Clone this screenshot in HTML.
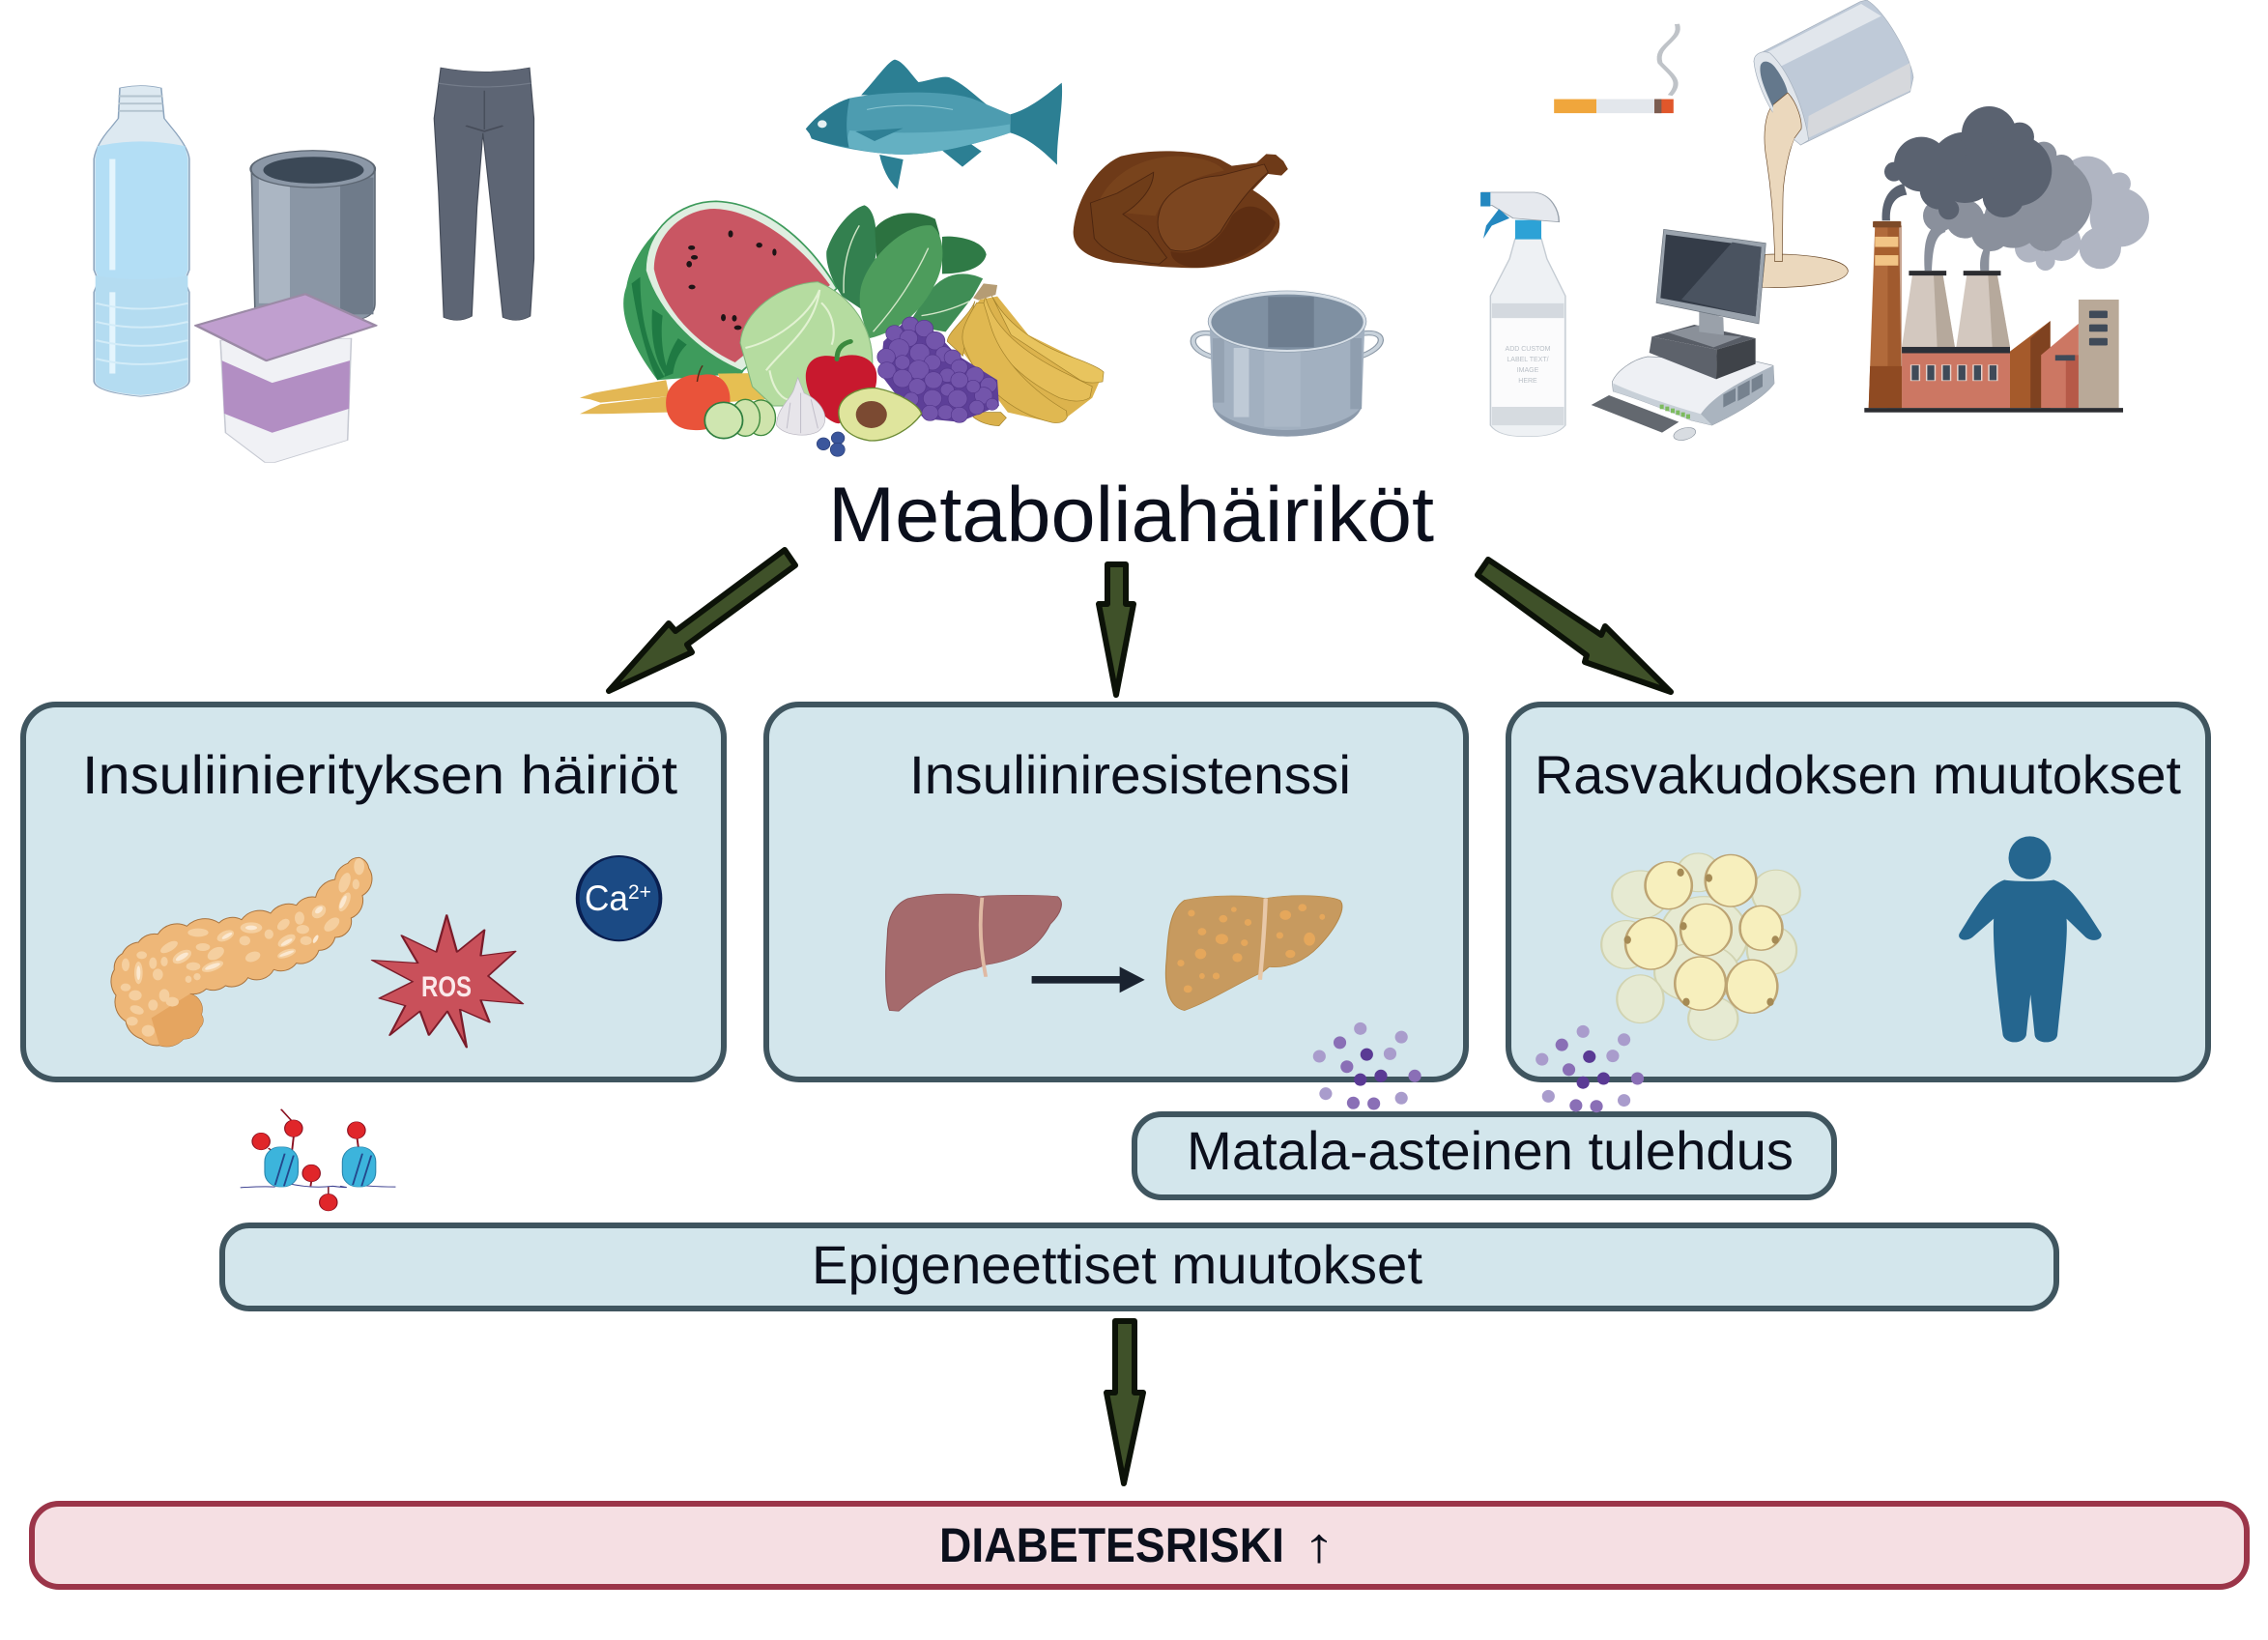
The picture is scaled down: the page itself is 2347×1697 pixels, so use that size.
<!DOCTYPE html>
<html><head><meta charset="utf-8"><title>Metaboliahäiriköt</title>
<style>html,body{margin:0;padding:0;background:#fff}svg{display:block}
text{font-family:"Liberation Sans",sans-serif;fill:#0b0f1c}</style></head><body>
<svg xmlns="http://www.w3.org/2000/svg" width="2347" height="1697" viewBox="0 0 2347 1697">
<rect width="2347" height="1697" fill="#fff"/>

<!-- LEFT TOP: bottle, can, yogurt, pants -->
<g transform="scale(.7653 .3827)">
 <path d="M162,238 Q190,225 218,238 L222,320 L232,345 Q255,400 256,430 L256,730 L250,760 L256,790 L256,1030 Q255,1060 190,1072 Q128,1060 127,1030 L127,790 L133,760 L127,730 L127,430 Q130,390 150,345 L160,320Z" fill="#dde9f1" stroke="#8ca4bd" stroke-width="2"/>
 <path d="M132,395 Q190,370 250,395 L254,430 L254,730 L248,760 L254,790 L254,1030 Q252,1058 190,1068 Q130,1058 129,1030 L129,790 L135,760 L129,730 L129,430Z" fill="#b3def5"/>
 <path d="M129,745 Q190,765 254,745 L254,1030 Q252,1058 190,1068 Q130,1058 129,1030Z" fill="#b4dcf1"/>
 <rect x="148" y="430" width="8" height="300" fill="#e4f5fd"/><rect x="148" y="790" width="8" height="220" fill="#e4f5fd"/>
 <path d="M130,820 Q190,850 254,820M130,870 Q190,900 254,870M130,920 Q190,950 254,920M130,970 Q190,1000 254,970" fill="none" stroke="#d3ecf8" stroke-width="5"/>
 <path d="M160,260H220M160,280H220M160,300H220" stroke="#b4c4cf" stroke-width="5"/>
 <path d="M340,460 C345,395 505,395 507,460 L507,820 Q507,860 480,865 L345,860Z" fill="#8a96a5" stroke="#5c6672" stroke-width="2"/>
 <rect x="350" y="480" width="42" height="340" fill="#abb6c3"/><rect x="460" y="480" width="45" height="370" fill="#6f7b8a"/>
 <ellipse cx="423" cy="457" rx="84" ry="50" fill="#8b97a6" stroke="#5c6672" stroke-width="3"/>
 <ellipse cx="424" cy="460" rx="68" ry="36" fill="#3b4856"/>
 <path d="M298,920 L475,915 L470,1190 L372,1250 L358,1250 L305,1170Z" fill="#f0f1f5" stroke="#c6c9d2" stroke-width="2"/>
 <path d="M300,975 L368,1035 L473,975 L472,1105 L368,1170 L303,1118Z" fill="#b28ec3"/>
 <path d="M265,880 L413,795 L508,880 L360,975Z" fill="#c09fcf" stroke="#9b8aa6" stroke-width="5" stroke-linejoin="round"/>

 <path d="M596,183 Q655,205 716,183 L722,320 L722,700 L717,855 Q700,875 680,858 L664,560 L653,360 L645,560 L638,855 Q620,875 600,858 L593,520 L587,320Z" fill="#5d6574" stroke="#444b58" stroke-width="1.5"/>
 <path d="M592,225 Q655,245 718,225" fill="none" stroke="#747c8a" stroke-width="3"/>
 <path d="M630,340 L655,355 L680,340" fill="none" stroke="#464c59" stroke-width="4"/>
 <path d="M655,245V350" stroke="#484f5c" stroke-width="2"/>
</g>

<!-- FISH / CHICKEN / POT -->
<g transform="translate(820 50) scale(.3954 .3333)">
 <path d="M180,145 C220,95 250,40 268,35 C290,40 310,80 330,105 C360,100 390,85 410,90 C450,110 490,160 520,185 L400,150Z" fill="#2c7f93"/>
 <path d="M570,205 C620,190 670,140 705,107 C710,180 690,280 693,362 C650,310 610,275 570,262Z" fill="#2c7f93"/>
 <path d="M390,315 L465,295 L495,320 L445,368Z M228,330 L290,345 L275,437 C250,410 235,370 228,330Z" fill="#2c7f93"/>
 <path d="M35,250 C70,200 110,170 150,155 C250,130 420,130 480,160 L570,205 L570,262 C500,290 400,325 300,330 C220,330 120,310 50,280 L45,265Z" fill="#4d9cb0"/>
 <path d="M148,308 Q140,280 150,255 C300,270 450,260 570,235 L570,262 C500,290 400,325 300,330 C240,330 190,320 148,308Z" fill="#64b0c2"/>
 <path d="M35,250 C70,200 110,170 150,155 Q135,235 148,308 C110,300 70,290 50,280 L45,265Z" fill="#2a7a8f"/>
 <circle cx="78" cy="235" r="12" fill="#e6f1f3"/>
 <path d="M195,190 Q300,165 420,190" fill="none" stroke="#8cc6d2" stroke-width="3"/>
 <path d="M165,258 L290,248 L215,288Z" fill="#2f8095"/>

 <path d="M735,570 C740,480 790,370 860,335 C940,310 1060,315 1120,345 L1150,365 L1215,355 L1240,328 L1265,330 L1285,350 L1297,375 L1280,395 L1245,390 L1205,440 C1260,480 1285,520 1272,570 C1240,640 1140,680 1060,682 C970,682 900,670 840,665 C770,650 735,620 735,570Z" fill="#6e3a18"/>
 <path d="M800,480 C830,400 900,340 1000,335 C1060,335 1110,350 1130,380 C1040,400 980,440 950,520 L860,510Z" fill="#7a461e" opacity=".8"/>
 <path d="M960,510 C970,450 1040,400 1120,395 L1235,360 L1245,385 C1190,440 1150,510 1120,570 C1080,620 1030,640 990,625 C960,590 950,550 960,510Z" fill="#7c4620" stroke="#4d2610" stroke-width="2.5"/>
 <path d="M780,480 L850,450 L945,385 C945,440 900,490 865,515 L930,570 L980,650 L960,670 C880,660 820,640 790,590Z" fill="#6f3d19" stroke="#4d2610" stroke-width="2.5"/>
 <path d="M990,630 C1060,650 1120,600 1150,520 C1190,470 1230,490 1265,540 C1240,630 1140,675 1060,680 C1020,680 990,660 990,630Z" fill="#5e2e12"/>

 <path d="M1095,885 C1035,875 1030,935 1100,958 M1495,885 C1555,875 1560,930 1478,960" fill="none" stroke="#8b98a6" stroke-width="16"/>
 <path d="M1095,885 C1035,875 1030,935 1100,958 M1495,885 C1555,875 1560,930 1478,960" fill="none" stroke="#c9d3dc" stroke-width="10"/>
 <path d="M1092,860 L1100,1110 C1115,1170 1200,1205 1295,1205 C1390,1205 1480,1165 1490,1110 L1498,860Z" fill="#a2b0c0"/>
 <path d="M1100,1110 C1115,1170 1200,1205 1295,1205 C1390,1205 1480,1165 1490,1110 C1470,1150 1390,1185 1295,1185 C1200,1185 1120,1150 1100,1110Z" fill="#8c9aab"/>
 <rect x="1155" y="930" width="40" height="215" fill="#bfcad6"/><rect x="1235" y="940" width="95" height="235" fill="#aab7c6"/><rect x="1460" y="900" width="30" height="220" fill="#8f9eaf"/><rect x="1100" y="900" width="30" height="200" fill="#94a2b2"/>
 <ellipse cx="1295" cy="848" rx="207" ry="95" fill="#d6dee6" stroke="#8d9cac" stroke-width="2"/>
 <ellipse cx="1295" cy="850" rx="199" ry="86" fill="#7f90a2"/>
 <path d="M1245,772 H1365 V928 H1245Z" fill="#6d7d8f"/>
</g>

<!-- FOOD PILE -->
<g transform="translate(600 180) scale(.3571 .3333)">
 <path d="M225,640 C140,520 110,420 135,350 C160,200 300,85 395,85 L600,400 L470,620Z" fill="#3e9b5c"/>
 <path d="M150,340 C165,450 190,560 225,640 L245,630 C195,540 175,440 175,320Z M210,420 C205,500 215,570 245,620 L255,610 C235,550 235,480 240,440Z M285,510 C260,550 250,590 245,630 L270,620 C275,580 290,550 310,530Z" fill="#1f7a43"/>
 <path d="M190,300 C190,170 290,85 395,85 C530,90 660,200 745,355 L470,612 C350,560 230,440 190,300Z" fill="#dfeee0" stroke="#3e9b5c" stroke-width="5"/>
 <path d="M215,295 C215,190 300,108 390,108 C510,112 640,220 725,345 L450,585 C340,530 240,420 215,295Z" fill="#c95663"/>
 <g fill="#1e1416"><ellipse cx="437" cy="186" rx="7" ry="11"/><ellipse cx="520" cy="221" rx="9" ry="8"/><ellipse cx="564" cy="243" rx="6" ry="11"/><ellipse cx="324" cy="229" rx="10" ry="7"/><ellipse cx="332" cy="259" rx="10" ry="7"/><ellipse cx="317" cy="280" rx="8" ry="10"/><ellipse cx="325" cy="351" rx="10" ry="7"/><ellipse cx="416" cy="446" rx="7" ry="11"/><ellipse cx="448" cy="448" rx="7" ry="10"/><ellipse cx="458" cy="477" rx="11" ry="7"/></g>

 <path d="M715,240 C735,170 790,105 825,97 C855,110 862,170 860,240 L850,300 L830,430 L760,380 C730,330 712,280 715,240Z" fill="#33804f"/>
 <path d="M855,170 C880,130 960,100 1030,140 L1042,185 L1050,260 L860,260Z" fill="#2c7240"/>
 <path d="M1050,195 C1090,190 1170,205 1178,250 C1170,290 1120,310 1050,310Z" fill="#2f7a46"/>
 <path d="M1010,370 C1050,310 1110,295 1168,325 L1140,380 L1060,490 L950,470Z" fill="#3f8d55"/>
 <path d="M815,350 C840,250 950,150 1020,160 C1060,190 1060,280 1030,340 C990,430 920,490 840,510 C815,450 805,400 815,350Z" fill="#4d9c5c"/>
 <path d="M765,370 Q760,250 810,160 M850,490 Q950,370 1010,230 M990,440 Q1060,430 1130,395" fill="none" stroke="#d2e6c8" stroke-width="4"/>

 <path d="M0,695 L40,680 L250,640 L260,690 L60,710 L30,700Z M0,745 L60,715 L260,690 L255,740 L60,745Z" fill="#e3b754"/>
 <path d="M400,620 L510,618 L538,700 L430,708Z" fill="#e6bf52"/>
 <path d="M465,525 C470,430 580,340 690,335 C790,380 850,480 848,590 L720,720 L560,720 L500,660Z" fill="#b5dca0" stroke="#7fb57a" stroke-width="3"/>
 <path d="M540,610 C590,540 680,480 695,360 C660,450 560,520 480,540M550,610 C560,670 590,710 620,700M700,400 C740,440 740,500 730,530" fill="none" stroke="#e2f2d2" stroke-width="6"/>
 <path d="M250,700 C255,640 320,615 350,625 C410,610 440,660 435,710 C430,770 380,800 330,795 C280,795 245,760 250,700Z" fill="#e9533a"/>
 <path d="M340,645 Q345,610 356,595" stroke="#5a2c18" stroke-width="4" fill="none"/>
 <path d="M655,620 C660,570 700,555 750,570 C800,550 855,570 860,620 C865,680 830,740 750,775 C710,770 650,690 655,620Z" fill="#c8192e"/>
 <path d="M745,575 Q745,530 785,520" stroke="#3b8a3e" stroke-width="14" fill="none" stroke-linecap="round"/>
 <g fill="#cfe4ac" stroke="#3f8a3f" stroke-width="4"><ellipse cx="525" cy="757" rx="42" ry="55"/><ellipse cx="480" cy="757" rx="42" ry="57"/></g>
 <ellipse cx="417" cy="765" rx="55" ry="56" fill="#cfe6b0" stroke="#2f7f3f" stroke-width="5"/>
 <path d="M632,632 L650,680 C710,710 730,770 690,800 C650,820 590,810 570,780 C570,730 610,700 620,670Z" fill="#e7e5ea" stroke="#b9b6c0" stroke-width="2"/>
 <path d="M640,680 L640,805M610,710 L600,790M670,700 L690,790" stroke="#c3c0cb" stroke-width="3" fill="none"/>

 <path d="M1160,390 L1210,380 L1300,500 L1518,615 L1485,695 L1412,755 L1370,772 L1240,740 L1115,560 L1065,520Z" fill="#dcb34d"/>
 <g stroke="#a4832c" stroke-width="2">
  <path d="M1145,395 C1130,440 1065,490 1065,520 L1110,565 L1120,500Z" fill="#dab14c"/>
  <path d="M1190,370 C1230,460 1320,530 1430,570 C1470,585 1510,605 1518,615 L1515,645 C1490,650 1470,650 1450,640 L1250,500Z" fill="#e8c45e"/>
  <path d="M1175,380 C1200,480 1290,560 1420,625 L1485,660 L1478,695 C1450,712 1420,705 1390,695 C1300,650 1210,570 1160,450Z" fill="#e5be58"/>
  <path d="M1150,400 C1110,470 1100,500 1115,540 C1150,640 1240,740 1370,772 C1390,775 1405,770 1412,755 L1410,735 C1320,680 1220,580 1190,470 L1170,400Z" fill="#e0b851"/>
  <path d="M1140,740 L1220,740 L1236,757 L1215,782 Q1170,780 1140,755Z" fill="#dab14c"/>
 </g>
 <path d="M1140,385 L1170,340 L1210,345 L1205,375 L1155,392Z" fill="#b59c74"/>
 <path d="M950,450 L1030,490 L1090,560 L1210,640 L1215,720 L1100,770 L1000,760 L920,690 L870,620 L880,520Z" fill="#5d3f98"/>
 <g fill="#7355ab" stroke="#54378c" stroke-width="2">
  <circle cx="958" cy="468" r="24"/><circle cx="998" cy="480" r="26"/><circle cx="912" cy="495" r="25"/><circle cx="953" cy="510" r="26"/><circle cx="1030" cy="518" r="28"/><circle cx="925" cy="542" r="30"/><circle cx="985" cy="555" r="29"/><circle cx="888" cy="568" r="26"/><circle cx="1055" cy="560" r="24"/><circle cx="1080" cy="570" r="24"/><circle cx="935" cy="585" r="22"/><circle cx="1022" cy="585" r="24"/><circle cx="982" cy="608" r="30"/><circle cx="1100" cy="600" r="24"/><circle cx="890" cy="610" r="26"/><circle cx="1065" cy="625" r="22"/><circle cx="935" cy="635" r="28"/><circle cx="1025" cy="640" r="26"/><circle cx="1145" cy="625" r="26"/><circle cx="1100" cy="640" r="25"/><circle cx="978" cy="660" r="25"/><circle cx="1065" cy="670" r="20"/><circle cx="1185" cy="655" r="24"/><circle cx="1022" cy="697" r="27"/><circle cx="1095" cy="698" r="28"/><circle cx="1170" cy="688" r="26"/><circle cx="960" cy="700" r="22"/><circle cx="1140" cy="660" r="20"/><circle cx="1060" cy="740" r="23"/><circle cx="1015" cy="742" r="24"/><circle cx="1150" cy="725" r="22"/><circle cx="1100" cy="748" r="24"/><circle cx="1195" cy="715" r="18"/></g>
 <path d="M750,740 C750,690 810,660 860,665 C930,680 985,720 990,745 C960,790 900,830 840,828 C790,820 750,790 750,740Z" fill="#dfe59d" stroke="#6c8a35" stroke-width="4"/>
 <ellipse cx="845" cy="747" rx="45" ry="42" fill="#7b4a32"/>
 <g fill="#3b569c" stroke="#2b3f78" stroke-width="2"><circle cx="706" cy="838" r="19"/><circle cx="748" cy="820" r="19"/><circle cx="747" cy="856" r="21"/></g>
</g>

<!-- SMOKE -->
<g transform="translate(1800 0) scale(.3333)">
 <g fill="#b0b5c2"><circle cx="1080" cy="570" r="85"/><circle cx="1180" cy="570" r="35"/><circle cx="1180" cy="675" r="92"/><circle cx="1120" cy="770" r="65"/><circle cx="1000" cy="750" r="60"/><circle cx="950" cy="810" r="30"/><circle cx="900" cy="770" r="45"/></g>
 <g fill="#8a909c"><circle cx="1000" cy="520" r="40"/><circle cx="960" cy="620" r="135"/><circle cx="950" cy="720" r="60"/><circle cx="780" cy="720" r="60"/><circle cx="700" cy="680" r="60"/><circle cx="620" cy="670" r="50"/><circle cx="945" cy="480" r="40"/><circle cx="850" cy="680" r="90"/>
  <path d="M575,840 C570,760 580,700 630,690 L640,720 C605,730 600,780 597,840Z M748,840 C745,810 750,790 760,770 L780,770 C775,790 775,810 775,840Z"/></g>
 <g fill="#5a6270"><circle cx="565" cy="510" r="85"/><circle cx="775" cy="415" r="85"/><circle cx="870" cy="425" r="45"/><circle cx="860" cy="530" r="110"/><circle cx="480" cy="533" r="30"/><circle cx="700" cy="520" r="110"/><circle cx="660" cy="470" r="45"/><circle cx="820" cy="610" r="65"/><circle cx="620" cy="590" r="60"/><circle cx="650" cy="650" r="32"/>
  <path d="M443,685 C440,620 465,580 510,570 L520,605 C480,610 465,640 468,685Z"/></g>
 <!-- paint stream/pool -->
 <path d="M80,790 C170,785 340,800 337,843 C330,885 170,895 70,892Z" fill="#ebd8bd" stroke="#6b4a2a" stroke-width="2"/>
 <path d="M150,288 C180,320 195,375 192,400 L170,430 C150,480 135,560 135,620 L133,812 L110,812 C108,700 100,600 85,500 C70,420 80,350 105,325Z" fill="#ebd8bd" stroke="#6b4a2a" stroke-width="2"/>
</g>

<!-- TOP RIGHT -->
<g transform="translate(1200 0) scale(.7315 .3827)">
 <!-- spray -->
 <path d="M503,645 L540,645 L548,700 L574,800 L574,1150 Q560,1182 520,1180 Q480,1182 468,1150 L468,800 L495,700Z" fill="#eef1f4" stroke="#c5ccd3" stroke-width="2"/>
 <rect x="470" y="860" width="102" height="240" fill="#fbfbfc"/><path d="M470,820 H572 V860 H470Z" fill="#d4d9df"/><rect x="470" y="1100" width="102" height="50" fill="#d6dbe0"/>
 <rect x="503" y="595" width="37" height="52" fill="#2da2d6"/>
 <path d="M456,520 H530 C555,525 565,570 565,600 L500,590 L470,555 H456Z" fill="#e6e9ee" stroke="#9aa3ad" stroke-width="2"/>
 <rect x="454" y="520" width="14" height="38" fill="#2488c0"/>
 <path d="M480,565 L495,590 L470,610 L458,645 L462,610Z" fill="#2488c0"/>

 <!-- cigarette -->
 <rect x="558" y="268" width="60" height="38" fill="#f0a63c"/><rect x="618" y="268" width="95" height="38" fill="#e3e7ec"/>
 <rect x="700" y="268" width="27" height="38" fill="#e0572b"/><rect x="700" y="268" width="10" height="38" fill="#7a5c50"/>
 <path d="M732,65 C740,110 700,120 708,170 C725,205 740,220 722,258" fill="none" stroke="#bfc3c8" stroke-width="7"/>

 <!-- factory -->
 <path d="M1203,950 L1260,868 V1103 H1203Z" fill="#a55a2b"/><path d="M1232,1103 V915 L1260,868 V1103Z" fill="#7f4220"/>
 <path d="M1247,960 L1300,875 V1103 H1247Z" fill="#cc7763"/><rect x="1282" y="960" width="18" height="143" fill="#b65a48"/>
 <rect x="1267" y="960" width="28" height="15" fill="#3f4a58"/>
 <rect x="1300" y="810" width="57" height="293" fill="#b9a998"/>
 <g fill="#3f4a58"><rect x="1315" y="840" width="26" height="20" rx="2"/><rect x="1315" y="877" width="26" height="20" rx="2"/><rect x="1315" y="914" width="26" height="20" rx="2"/></g>
 <path d="M1065,742 H1108 L1125,938 H1050Z" fill="#d3c8bf"/><path d="M1095,742 H1108 L1125,938 H1100Z" fill="#b6a99c"/>
 <path d="M1142,742 H1185 L1203,938 H1127Z" fill="#d3c8bf"/><path d="M1172,742 H1185 L1203,938 H1178Z" fill="#b6a99c"/>
 <rect x="1060" y="732" width="53" height="13" fill="#2c2d31"/><rect x="1137" y="732" width="53" height="13" fill="#2c2d31"/>
 <rect x="1050" y="938" width="153" height="165" fill="#cc7763"/><rect x="1050" y="938" width="153" height="17" fill="#2c3038"/>
 <g fill="#3f4a58" stroke="#e7d3cc" stroke-width="2"><rect x="1063" y="987" width="12" height="42"/><rect x="1085" y="987" width="12" height="42"/><rect x="1107" y="987" width="12" height="42"/><rect x="1129" y="987" width="12" height="42"/><rect x="1151" y="987" width="12" height="42"/><rect x="1173" y="987" width="12" height="42"/></g>
 <path d="M1012,610 H1046 L1050,1103 H1003Z" fill="#b16a3b"/>
 <path d="M1005,990 H1050 V1103 H1003Z" fill="#8f4a22"/><rect x="1030" y="610" width="20" height="493" fill="#8f4a22" opacity=".5"/>
 <rect x="1012" y="640" width="33" height="28" fill="#f2c485"/><rect x="1012" y="668" width="33" height="22" fill="#a8602e"/><rect x="1012" y="690" width="33" height="28" fill="#f2c485"/>
 <rect x="1009" y="598" width="40" height="17" rx="2" fill="#7d4a28"/>
 <rect x="997" y="1103" width="366" height="12" fill="#2c2d31"/>
</g>

<!-- paint can -->
<g transform="translate(1800 0) scale(.3333)">
 <path d="M75,160 L375,5 L395,0 C450,30 530,170 540,240 L530,285 L190,450 C140,400 60,260 45,190Z" fill="#bfcad8" stroke="#a4afbc" stroke-width="2"/>
 <path d="M80,165 L378,12 L440,50 L130,205Z" fill="#e1e6ec"/>
 <path d="M215,360 L530,195 L532,280 L210,430Z" fill="#d6d8dc"/>
 <path d="M45,190 C45,165 75,155 95,165 C150,215 200,330 215,435 L190,450 C110,390 50,260 45,190Z" fill="#e1e6ec" stroke="#a4afbc" stroke-width="2"/>
 <path d="M65,205 C70,185 95,185 115,215 C140,250 150,280 150,290 L105,335 C85,290 60,240 65,205Z" fill="#64788c"/>
 <path d="M150,288 C180,320 195,375 192,400 L170,430 L155,470 L100,400 L105,325Z" fill="#ebd8bd"/>
 <path d="M150,288 C180,320 195,375 192,400 L170,430 M105,325 L150,288" fill="none" stroke="#6b4a2a" stroke-width="2"/>
</g>

<!-- computer -->
<g transform="translate(1640 220) scale(.3333)">
 <path d="M85,525 C100,490 150,455 195,447 L530,462 L585,475 L588,530 C560,570 480,620 395,660 L330,645 C250,610 140,570 88,555Z" fill="#eef0f4" stroke="#8e97a2" stroke-width="2"/>
 <path d="M88,530 C150,560 270,600 360,625 L395,660 L330,645 C250,610 140,570 88,555Z" fill="#c8d0d8"/>
 <path d="M360,625 C400,570 470,530 585,475 L588,530 C560,570 480,620 395,660Z" fill="#aab4bf"/>
 <g fill="#76828f"><path d="M430,565 L468,545 V585 L430,605Z"/><path d="M475,540 L512,520 V565 L475,585Z"/><path d="M518,518 L552,500 V540 L518,560Z"/></g>
 <g fill="#7dbb5e"><rect x="233" y="596" width="12" height="14"/><rect x="250" y="602" width="12" height="14"/><rect x="267" y="608" width="12" height="14"/><rect x="283" y="614" width="12" height="14"/><rect x="299" y="620" width="12" height="14"/><rect x="315" y="626" width="12" height="14"/></g>
 <path d="M20,597 L75,567 L292,650 L240,683Z" fill="#63686f"/>
 <ellipse cx="310" cy="687" rx="35" ry="18" transform="rotate(-15 310 687)" fill="#d8dce1" stroke="#8e97a2" stroke-width="2"/>
 <path d="M208,385 L340,348 L530,390 L410,425Z" fill="#585d66"/>
 <path d="M258,372 L355,350 L430,380 L488,385 L400,418Z" fill="#8a9099"/>
 <path d="M208,385 L200,435 L408,517 L410,425Z" fill="#5d626b"/>
 <path d="M410,425 L530,390 L530,470 L408,517Z" fill="#3f4349"/>
 <path d="M355,305 L430,325 L432,380 L355,370Z" fill="#9aa1aa"/>
 <path d="M245,52 L562,95 L540,345 L222,280Z" fill="#9aa3ad" stroke="#6a737d" stroke-width="2"/>
 <path d="M252,68 L548,107 L530,322 L235,265Z" fill="#343c48"/>
 <path d="M458,92 L548,107 L530,322 L300,270Z" fill="#4a5360"/>
</g>
<g font-size="7" text-anchor="middle"><text x="1581" y="363" style="fill:#b9bfc6">ADD CUSTOM</text><text x="1581" y="374" style="fill:#b9bfc6">LABEL TEXT/</text><text x="1581" y="385" style="fill:#b9bfc6">IMAGE</text><text x="1581" y="396" style="fill:#b9bfc6">HERE</text></g>

<!-- TITLE -->
<text x="857" y="560" font-size="81" textLength="627" lengthAdjust="spacingAndGlyphs">Metaboliahäiriköt</text>

<!-- ARROWS -->
<g fill="#3f5129" stroke="#0c1208" stroke-width="6" stroke-linejoin="round">
 <path d="M812,569 L823,585 L711,667 L716,675 L630,715 L692,645 L699,653Z"/>
 <path d="M1146,584 H1165 V625 H1173 L1155,719 L1137,625 H1146Z"/>
 <path d="M1540,579 L1529,595 L1642,678 L1640,685 L1729,716 L1661,648 L1657,657Z"/>
 <path d="M1154,1367 H1174 V1441 H1183 L1163,1535 L1145,1441 H1154Z"/>
</g>

<!-- BOXES -->
<g fill="#d3e6ec" stroke="#3f555f" stroke-width="6">
 <rect x="24" y="729" width="725" height="388" rx="34"/>
 <rect x="793" y="729" width="724" height="388" rx="34"/>
 <rect x="1561" y="729" width="724" height="388" rx="34"/>
 <rect x="1174" y="1153" width="724" height="86" rx="28"/>
 <rect x="230" y="1268" width="1898" height="86" rx="28"/>
</g>
<rect x="33" y="1556" width="2292" height="86" rx="28" fill="#f5dfe3" stroke="#9b3549" stroke-width="6"/>

<!-- LABELS -->
<g font-size="56">
 <text x="85" y="821" textLength="616" lengthAdjust="spacingAndGlyphs">Insuliinierityksen häiriöt</text>
 <text x="941" y="821" textLength="457" lengthAdjust="spacingAndGlyphs">Insuliiniresistenssi</text>
 <text x="1588" y="821" textLength="669" lengthAdjust="spacingAndGlyphs">Rasvakudoksen muutokset</text>
 <text x="1228" y="1210" textLength="628" lengthAdjust="spacingAndGlyphs">Matala-asteinen tulehdus</text>
 <text x="840" y="1328" textLength="632" lengthAdjust="spacingAndGlyphs">Epigeneettiset muutokset</text>
</g>
<text x="972" y="1616" font-size="50" font-weight="700" textLength="357" lengthAdjust="spacingAndGlyphs">DIABETESRISKI</text>
<text x="1348" y="1616" font-size="50" font-weight="700" textLength="34" lengthAdjust="spacingAndGlyphs">↑</text>

<!-- Pancreas -->
<g transform="translate(100 880) scale(.3333)">
 <path d="M815,22 A40,40 0 0 1 845,55 A60,60 0 0 1 825,140 A60,60 0 0 1 790,210 A50,50 0 0 1 740,270 A50,50 0 0 1 690,310 A60,60 0 0 1 620,350 A60,60 0 0 1 550,370 A60,60 0 0 1 470,395 A60,60 0 0 1 400,420 A60,60 0 0 1 340,430 A60,60 0 0 1 290,445 A50,50 0 0 1 325,510 A30,30 0 0 1 320,550 A50,50 0 0 1 270,585 A70,70 0 0 1 195,605 A60,60 0 0 1 140,585 A70,70 0 0 1 90,530 A70,70 0 0 1 60,450 A70,70 0 0 1 55,370 A50,50 0 0 1 80,320 A60,60 0 0 1 130,285 A60,60 0 0 1 190,260 A70,70 0 0 1 280,235 A80,80 0 0 1 380,225 A60,60 0 0 1 450,215 A70,70 0 0 1 540,195 A70,70 0 0 1 620,170 A60,60 0 0 1 680,145 A70,70 0 0 1 740,90 A60,60 0 0 1 780,40 A40,40 0 0 1 815,22Z" fill="#eeb778" stroke="#a9743f" stroke-width="3"/>
 <path d="M290,445 A50,50 0 0 1 325,510 A30,30 0 0 1 320,550 A50,50 0 0 1 270,585 A70,70 0 0 1 195,605 L170,520Z" fill="#e5a560"/>
 <g fill="#f5cf9f">
  <ellipse cx="815" cy="50" rx="16" ry="26"/><ellipse cx="770" cy="100" rx="16" ry="32" transform="rotate(20 770 100)"/><ellipse cx="805" cy="105" rx="11" ry="16"/><ellipse cx="770" cy="160" rx="14" ry="32" transform="rotate(25 770 160)"/><ellipse cx="690" cy="190" rx="24" ry="18" transform="rotate(-40 690 190)"/><ellipse cx="730" cy="230" rx="28" ry="16" transform="rotate(-40 730 230)"/><ellipse cx="630" cy="210" rx="15" ry="20"/><ellipse cx="580" cy="230" rx="22" ry="14" transform="rotate(-40 580 230)"/><ellipse cx="640" cy="245" rx="20" ry="14"/><ellipse cx="590" cy="280" rx="30" ry="15" transform="rotate(-30 590 280)"/><ellipse cx="650" cy="280" rx="18" ry="14"/><ellipse cx="480" cy="240" rx="34" ry="17"/><ellipse cx="535" cy="260" rx="14" ry="15"/><ellipse cx="460" cy="280" rx="17" ry="15"/><ellipse cx="485" cy="330" rx="24" ry="15" transform="rotate(-20 485 330)"/><ellipse cx="590" cy="320" rx="30" ry="12" transform="rotate(-20 590 320)"/><ellipse cx="400" cy="265" rx="28" ry="15" transform="rotate(-25 400 265)"/><ellipse cx="370" cy="320" rx="28" ry="17" transform="rotate(-30 370 320)"/><ellipse cx="360" cy="360" rx="35" ry="14" transform="rotate(-20 360 360)"/><ellipse cx="315" cy="255" rx="32" ry="13"/><ellipse cx="330" cy="300" rx="22" ry="12"/><ellipse cx="265" cy="330" rx="32" ry="17" transform="rotate(-30 265 330)"/><ellipse cx="225" cy="300" rx="30" ry="13" transform="rotate(-30 225 300)"/><ellipse cx="300" cy="360" rx="22" ry="13"/><ellipse cx="190" cy="385" rx="16" ry="18"/><ellipse cx="285" cy="400" rx="10" ry="11"/><ellipse cx="312" cy="392" rx="11" ry="11"/><ellipse cx="210" cy="345" rx="11" ry="15"/><ellipse cx="175" cy="350" rx="12" ry="18"/><ellipse cx="130" cy="380" rx="13" ry="35"/><ellipse cx="90" cy="355" rx="12" ry="20"/><ellipse cx="90" cy="425" rx="16" ry="12"/><ellipse cx="140" cy="325" rx="16" ry="12"/><ellipse cx="210" cy="450" rx="16" ry="20"/><ellipse cx="125" cy="495" rx="22" ry="13" transform="rotate(20 125 495)"/><ellipse cx="110" cy="530" rx="18" ry="14"/><ellipse cx="160" cy="560" rx="20" ry="18"/><ellipse cx="175" cy="480" rx="15" ry="17"/><ellipse cx="120" cy="450" rx="20" ry="16"/><ellipse cx="235" cy="470" rx="20" ry="15"/></g>
 <g fill="#fbe8d0"><ellipse cx="690" cy="185" rx="14" ry="8" transform="rotate(-40 690 185)"/><ellipse cx="765" cy="160" rx="7" ry="22" transform="rotate(25 765 160)"/><ellipse cx="590" cy="285" rx="20" ry="6" transform="rotate(-30 590 285)"/><ellipse cx="480" cy="240" rx="18" ry="7"/><ellipse cx="360" cy="360" rx="25" ry="7" transform="rotate(-20 360 360)"/><ellipse cx="265" cy="330" rx="22" ry="8" transform="rotate(-30 265 330)"/><ellipse cx="130" cy="380" rx="6" ry="22"/><ellipse cx="680" cy="275" rx="6" ry="14" transform="rotate(30 680 275)"/><ellipse cx="590" cy="320" rx="24" ry="5" transform="rotate(-20 590 320)"/><ellipse cx="405" cy="265" rx="18" ry="6" transform="rotate(-30 405 265)"/></g>
</g>

<!-- Box 1 art -->
<g transform="translate(0 700) scale(.7653 .3827)">
 <path d="M604,645 L618,745 L655,685 L650,755 L697,743 L660,810 L707,885 L650,875 L662,935 L622,900 L631,1003 L605,905 L580,970 L568,905 L527,970 L548,890 L513,870 L558,825 L503,767 L565,775 L543,700 L590,745Z" fill="#c9505a" stroke="#7a1c2a" stroke-width="3" stroke-linejoin="round"/>
 <ellipse cx="837" cy="600" rx="56" ry="114" fill="#1b4a84" stroke="#0a1f50" stroke-width="5"/>
 <path d="M1228,600 C1260,585 1300,585 1325,595 C1345,590 1410,590 1430,595 C1440,610 1435,640 1420,670 C1405,730 1380,765 1332,780 L1320,790 C1280,800 1240,860 1215,905 L1203,903 C1195,860 1198,760 1200,700 C1200,650 1210,615 1228,600Z" fill="#a56a6c" stroke="#8d5558" stroke-width="1.5"/>
 <path d="M1328,598 Q1322,700 1333,812" fill="none" stroke="#dfb9a3" stroke-width="5"/>
 <rect x="1395" y="810" width="122" height="20" fill="#1a2330"/><path d="M1514,785 L1548,820 L1514,855Z" fill="#1a2330"/>

 <!-- epigenetics -->
 <path d="M325,1382 Q355,1378 372,1380 M388,1370 Q420,1385 450,1378 Q480,1385 460,1378 M490,1376 Q510,1380 535,1380" fill="none" stroke="#3b3f8f" stroke-width="2.5"/>
 <path d="M444,1380 V1405" stroke="#7a1c2a" stroke-width="2"/>
 <path d="M380,1170 L396,1205 M397,1245 L395,1280 M363,1275 L375,1295 M483,1250 L485,1280 M421,1365 L420,1378" stroke="#8a1020" stroke-width="2.5" fill="none"/>
 <rect x="358" y="1272" width="45" height="108" rx="20" ry="40" fill="#3cb4dc" stroke="#2a86ad" stroke-width="1.5"/>
 <rect x="463" y="1272" width="45" height="108" rx="20" ry="40" fill="#3cb4dc" stroke="#2a86ad" stroke-width="1.5"/>
 <path d="M385,1290 L372,1375 M397,1295 L384,1378 M490,1290 L477,1375 M502,1295 L489,1378" stroke="#23488c" stroke-width="2.5" fill="none"/>
 <g fill="#e0262a" stroke="#8a1020" stroke-width="1.5"><ellipse cx="397" cy="1222" rx="12" ry="23"/><ellipse cx="353" cy="1257" rx="12" ry="23"/><ellipse cx="482" cy="1227" rx="12" ry="23"/><ellipse cx="421" cy="1343" rx="12" ry="23"/><ellipse cx="444" cy="1422" rx="12" ry="23"/></g>
</g>
<text x="462" y="1031" font-size="30" font-weight="700" text-anchor="middle" style="fill:#fbe9ea" textLength="52" lengthAdjust="spacingAndGlyphs">ROS</text>
<text x="605" y="942" font-size="37" style="fill:#fff" textLength="45" lengthAdjust="spacingAndGlyphs">Ca</text>
<text x="650" y="930" font-size="21" style="fill:#fff">2+</text>

<!-- Box 2/3 art -->
<g transform="translate(1200 700) scale(.7315 .3827)">
 <path d="M35,605 C70,590 120,590 150,600 C175,590 235,588 255,605 C265,625 250,680 225,730 C205,770 180,790 155,785 L145,800 C110,830 70,880 35,903 C15,895 5,850 10,760 C12,690 15,630 35,605Z" fill="#c79a5f" stroke="#b48748" stroke-width="1.5"/>
 <path d="M150,600 Q148,700 142,820" fill="none" stroke="#e8c8a8" stroke-width="6"/>
 <g fill="#e5a75b"><ellipse cx="88" cy="710" rx="9" ry="14"/><ellipse cx="58" cy="750" rx="8" ry="14"/><ellipse cx="110" cy="760" rx="7" ry="12"/><ellipse cx="60" cy="690" rx="6" ry="10"/><ellipse cx="90" cy="655" rx="6" ry="10"/><ellipse cx="125" cy="665" rx="5" ry="9"/><ellipse cx="40" cy="845" rx="6" ry="10"/><ellipse cx="30" cy="775" rx="5" ry="9"/><ellipse cx="80" cy="810" rx="5" ry="9"/><ellipse cx="212" cy="710" rx="8" ry="18"/><ellipse cx="178" cy="645" rx="8" ry="13"/><ellipse cx="202" cy="625" rx="6" ry="10"/><ellipse cx="185" cy="750" rx="7" ry="11"/><ellipse cx="230" cy="650" rx="4" ry="8"/><ellipse cx="120" cy="720" rx="5" ry="9"/><ellipse cx="45" cy="640" rx="5" ry="9"/><ellipse cx="105" cy="630" rx="4" ry="7"/><ellipse cx="60" cy="810" rx="4" ry="8"/><ellipse cx="170" cy="700" rx="5" ry="9"/></g>

 <g fill="#e6ead2" stroke="#d1d3b1" stroke-width="3">
  <ellipse cx="770" cy="700" rx="62" ry="105"/><ellipse cx="760" cy="800" rx="60" ry="80"/>
  <ellipse cx="680" cy="590" rx="40" ry="65"/><ellipse cx="762" cy="530" rx="30" ry="52"/><ellipse cx="872" cy="585" rx="34" ry="62"/><ellipse cx="660" cy="725" rx="35" ry="65"/><ellipse cx="866" cy="740" rx="35" ry="65"/><ellipse cx="680" cy="872" rx="33" ry="65"/><ellipse cx="783" cy="925" rx="35" ry="58"/></g>
 <g fill="#f7efbd" stroke="#bda473" stroke-width="3.5">
  <ellipse cx="720" cy="565" rx="33" ry="64"/><ellipse cx="808" cy="552" rx="36" ry="70"/><ellipse cx="773" cy="685" rx="36" ry="70"/><ellipse cx="851" cy="680" rx="30" ry="60"/><ellipse cx="695" cy="722" rx="36" ry="70"/><ellipse cx="765" cy="830" rx="36" ry="72"/><ellipse cx="838" cy="838" rx="36" ry="72"/></g>
 <g fill="#a58a55"><ellipse cx="737" cy="530" rx="5" ry="11"/><ellipse cx="777" cy="545" rx="5" ry="11"/><ellipse cx="741" cy="675" rx="5" ry="11"/><ellipse cx="871" cy="712" rx="5" ry="11"/><ellipse cx="662" cy="712" rx="5" ry="11"/><ellipse cx="745" cy="880" rx="5" ry="11"/><ellipse cx="864" cy="880" rx="5" ry="11"/></g>
 <g fill="#25668f">
  <ellipse cx="1231" cy="490" rx="30" ry="58"/>
  <path d="M1195,550 C1210,555 1250,555 1265,550 C1290,565 1310,630 1332,695 C1335,712 1320,720 1310,705 L1283,655 C1285,700 1280,790 1270,970 C1268,995 1240,995 1238,970 L1232,860 L1226,970 C1222,995 1197,995 1193,970 C1185,860 1178,720 1180,655 L1150,705 C1140,720 1125,710 1133,690 C1150,640 1170,565 1195,550Z"/>
 </g>
 <g fill="#a99ccc">
  <ellipse cx="284" cy="952" rx="9" ry="17"/><ellipse cx="342" cy="975" rx="9" ry="17"/><ellipse cx="326" cy="1020" rx="9" ry="17"/><ellipse cx="226" cy="1027" rx="9" ry="17"/><ellipse cx="235" cy="1128" rx="9" ry="17"/><ellipse cx="342" cy="1140" rx="9" ry="17"/>
  <ellipse cx="599" cy="960" rx="9" ry="17"/><ellipse cx="657" cy="982" rx="9" ry="17"/><ellipse cx="641" cy="1026" rx="9" ry="17"/><ellipse cx="541" cy="1035" rx="9" ry="17"/><ellipse cx="550" cy="1135" rx="9" ry="17"/><ellipse cx="657" cy="1146" rx="9" ry="17"/></g>
 <g fill="#8a6fb6">
  <ellipse cx="255" cy="990" rx="9" ry="17"/><ellipse cx="265" cy="1055" rx="9" ry="17"/><ellipse cx="361" cy="1080" rx="9" ry="17"/><ellipse cx="274" cy="1153" rx="9" ry="17"/><ellipse cx="303" cy="1155" rx="9" ry="17"/>
  <ellipse cx="569" cy="996" rx="9" ry="17"/><ellipse cx="579" cy="1063" rx="9" ry="17"/><ellipse cx="676" cy="1087" rx="9" ry="17"/><ellipse cx="589" cy="1160" rx="9" ry="17"/><ellipse cx="618" cy="1162" rx="9" ry="17"/></g>
 <g fill="#5a3a94">
  <ellipse cx="293" cy="1022" rx="9" ry="17"/><ellipse cx="284" cy="1090" rx="9" ry="17"/><ellipse cx="313" cy="1080" rx="9" ry="17"/>
  <ellipse cx="608" cy="1028" rx="9" ry="17"/><ellipse cx="599" cy="1098" rx="9" ry="17"/><ellipse cx="628" cy="1087" rx="9" ry="17"/></g>
</g>
</svg>
</body></html>
